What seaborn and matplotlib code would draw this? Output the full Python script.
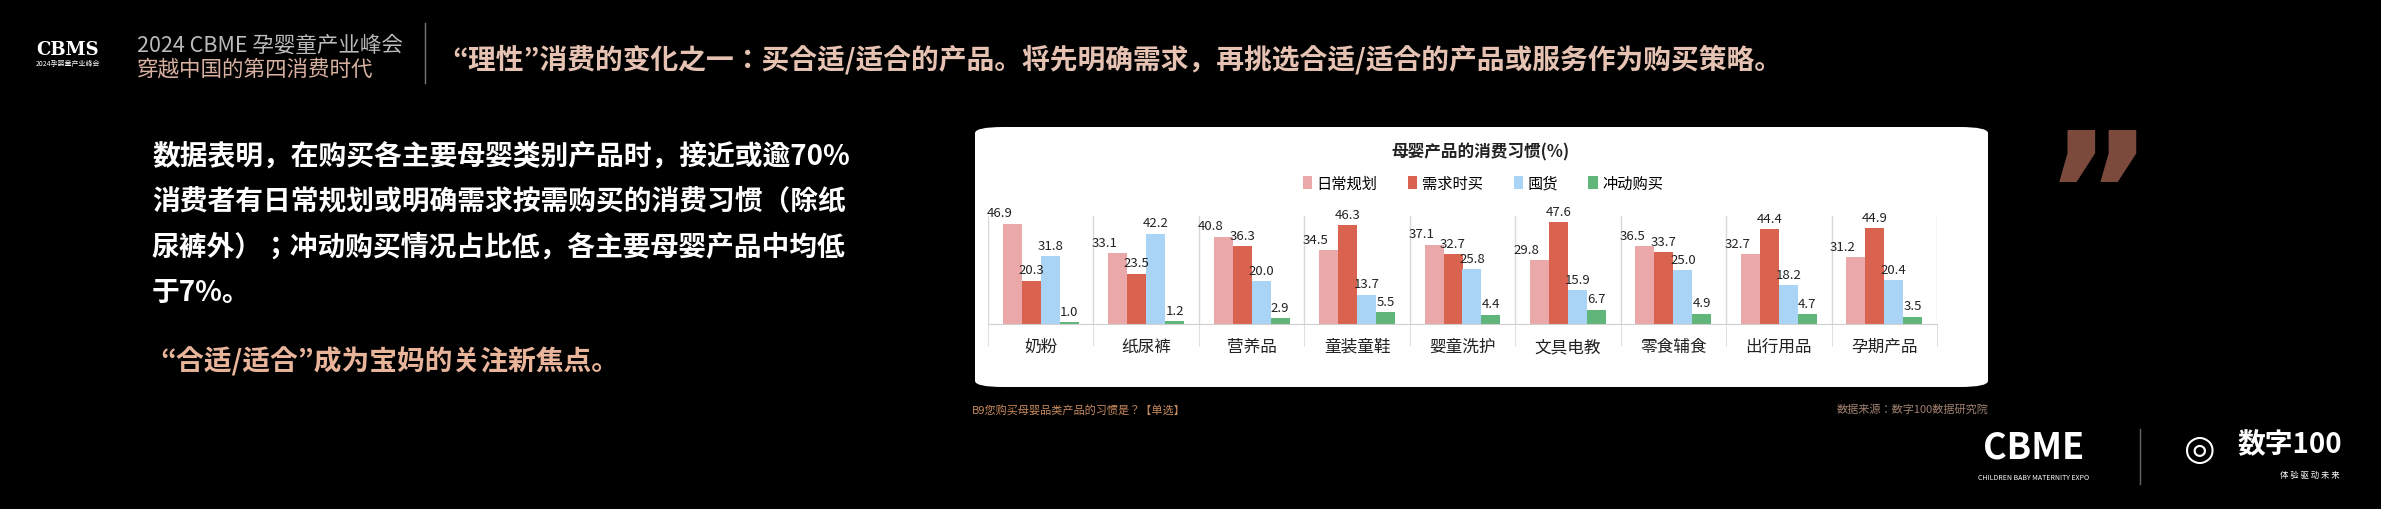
import matplotlib
matplotlib.use("Agg")
import matplotlib.pyplot as plt
from matplotlib import font_manager as fm
from matplotlib.patches import FancyBboxPatch, Patch
import seaborn as sns
import pandas as pd

names = sorted({f.name for f in fm.fontManager.ttflist if "CJK" in f.name})
cjk = next((n for n in ["Noto Sans CJK SC", "Noto Sans CJK JP", "Noto Sans CJK TC", "Noto Sans CJK KR"] if n in names), names[0] if names else "DejaVu Sans")
plt.rcParams["font.family"] = "sans-serif"
plt.rcParams["font.sans-serif"] = [cjk, "DejaVu Sans"]

categories = ["奶粉", "纸尿裤", "营养品", "童装童鞋", "婴童洗护", "文具电教", "零食辅食", "出行用品", "孕期产品"]
series = ["日常规划", "需求时买", "囤货", "冲动购买"]
daily = [46.9, 33.1, 40.8, 34.5, 37.1, 29.8, 36.5, 32.7, 31.2]
need = [20.3, 23.5, 36.3, 46.3, 32.7, 47.6, 33.7, 44.4, 44.9]
stock = [31.8, 42.2, 20.0, 13.7, 25.8, 15.9, 25.0, 18.2, 20.4]
impulse = [1.0, 1.2, 2.9, 5.5, 4.4, 6.7, 4.9, 4.7, 3.5]
colors = ["#eaa9a8", "#d9634f", "#a9d4f5", "#5fb57a"]

rows = []
for s, vals in zip(series, [daily, need, stock, impulse]):
    for c, v in zip(categories, vals):
        rows.append({"cat": c, "series": s, "value": v})
df = pd.DataFrame(rows)

W, H = 2381, 510
fig = plt.figure(figsize=(W / 100, H / 100), dpi=100)
fig.patch.set_facecolor("black")

def fx(x): return x / W
def fy(y): return 1 - y / H

panel = FancyBboxPatch((fx(975), fy(388)), fx(1013), 260 / H,
                       boxstyle="round,pad=0,rounding_size=0.012",
                       transform=fig.transFigure, facecolor="white", edgecolor="none", zorder=-5)
fig.patches.append(panel)

ax = fig.add_axes([fx(988), fy(325), fx(949), (325 - 217) / H])
ax.set_zorder(5)
ax.patch.set_alpha(0)
sns.barplot(data=df, x="cat", y="value", hue="series", palette=colors,
            width=0.72, ax=ax, legend=False, saturation=1)
ax.set_ylim(0, 50.4)
ax.set_xlim(-0.5, len(categories) - 0.5)
for k, cont in enumerate(ax.containers):
    texts = ax.bar_label(cont, fmt="%.1f", padding=3, fontsize=9.5, color="#222222")
    if k == 0:
        for t in texts:
            t.set_ha("right")
            t.set_x(t.get_position()[0])
for i in range(len(categories) + 1):
    ax.axvline(i - 0.5, color="#d9d9d9", lw=1, zorder=0)
for s in ["top", "right", "left"]:
    ax.spines[s].set_visible(False)
ax.spines["bottom"].set_color("#d0d0d0")
ax.set_yticks([])
ax.set_xlabel("")
ax.set_ylabel("")
ax.set_xticks(range(len(categories)))
ax.set_xticklabels(categories, fontsize=12, color="#222222")
ax.tick_params(axis="x", length=0, pad=10)
ax.set_xticks([i - 0.5 for i in range(len(categories) + 1)], minor=True)
ax.tick_params(axis="x", which="minor", length=16, color="#d9d9d9")

fig.text(fx(1481), fy(152), "母婴产品的消费习惯(%)", ha="center", va="center", fontsize=12, fontweight="bold", color="#222222")
handles = [Patch(facecolor=c, label=s) for c, s in zip(colors, series)]
fig.legend(handles=handles, loc="center", bbox_to_anchor=(fx(1483), fy(184)), ncol=4, frameon=False,
           fontsize=11, handlelength=0.6, handleheight=0.9, columnspacing=2.0, handletextpad=0.3)

fig.text(fx(68), fy(50), "CBMS", ha="center", va="center", fontsize=13, fontweight="bold", color="white", family="DejaVu Serif")
fig.text(fx(68), fy(64), "2024孕婴童产业峰会", ha="center", va="center", fontsize=5, color="white")
fig.text(fx(137), fy(46), "2024 CBME 孕婴童产业峰会", ha="left", va="center", fontsize=15.5, color="#bbbbbb")
fig.text(fx(137), fy(70), "穿越中国的第四消费时代", ha="left", va="center", fontsize=15.5, color="#d8b0a0")
fig.add_artist(plt.Line2D([fx(425), fx(425)], [fy(24), fy(84)], color="#777777", lw=1))
fig.text(fx(452), fy(60), "“理性”消费的变化之一：买合适/适合的产品。将先明确需求，再挑选合适/适合的产品或服务作为购买策略。",
         ha="left", va="center", fontsize=20, fontweight="bold", color="#e6c2b3")

lines = ["数据表明，在购买各主要母婴类别产品时，接近或逾70%",
         "消费者有日常规划或明确需求按需购买的消费习惯（除纸",
         "尿裤外）；冲动购买情况占比低，各主要母婴产品中均低",
         "于7%。"]
for i, t in enumerate(lines):
    fig.text(fx(152), fy(156 + i * 45.5), t, ha="left", va="center", fontsize=20, fontweight="bold", color="white")
fig.text(fx(160), fy(362), "“合适/适合”成为宝妈的关注新焦点。", ha="left", va="center", fontsize=20,
         fontweight="bold", color="#e8b49a")

fig.text(fx(2098), fy(205), "”", ha="center", va="center", fontsize=120, fontweight="bold", color="#7b4a3c",
         family="DejaVu Sans")

fig.text(fx(972), fy(410), "B9您购买母婴品类产品的习惯是？【单选】", ha="left", va="center", fontsize=8, color="#c98a5e")
fig.text(fx(1989), fy(410), "数据来源：数字100数据研究院", ha="right", va="center", fontsize=8, color="#a08070")

fig.text(fx(2034), fy(448), "CBME", ha="center", va="center", fontsize=26, fontweight="bold", color="white")
fig.text(fx(2034), fy(478), "CHILDREN BABY MATERNITY EXPO", ha="center", va="center", fontsize=5, color="white")
fig.add_artist(plt.Line2D([fx(2140), fx(2140)], [fy(430), fy(485)], color="#666666", lw=1))
fig.text(fx(2200), fy(450), "◎", ha="center", va="center", fontsize=26, color="white", family="DejaVu Sans")
fig.text(fx(2290), fy(445), "数字100", ha="center", va="center", fontsize=20, fontweight="bold", color="white")
fig.text(fx(2310), fy(475), "体 验 驱 动 未 来", ha="center", va="center", fontsize=6, color="white")

fig.savefig("out.png", dpi=100, facecolor="black")
